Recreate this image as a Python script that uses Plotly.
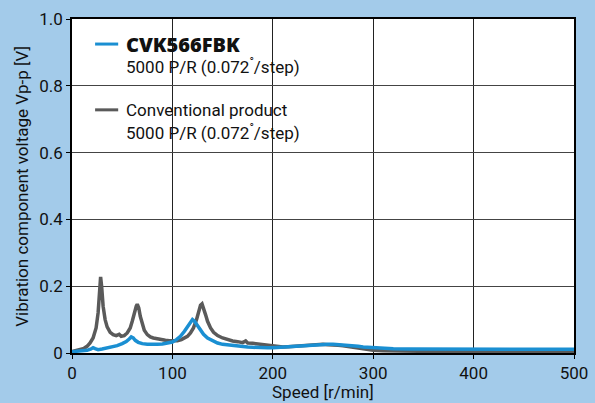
import plotly.graph_objects as go

# Conventional product (gray)
conv_speed = [0, 3, 6, 9, 12, 15, 18, 21, 24, 26, 27.5, 28.5, 29.5, 31, 33, 35, 38, 41, 44, 47, 49,
              52, 55, 58, 60, 62, 64, 65, 66.5, 68, 70, 72, 75, 78, 81, 85, 89, 93, 97, 101, 105,
              109, 112, 115, 118, 121, 124, 126, 128, 129.5, 131, 133, 135, 138, 141, 145, 150,
              155, 160, 165, 170, 173, 175, 180, 185, 190, 195, 200, 205, 210, 215, 220, 225,
              230, 235, 240, 245, 250, 255, 260, 265, 270, 275, 280, 285, 290, 295, 300, 310,
              320, 335, 350, 370, 390, 410, 430, 450, 470, 490, 500]
conv_v = [0.004, 0.006, 0.008, 0.010, 0.014, 0.020, 0.030, 0.045, 0.075, 0.120, 0.180, 0.228, 0.200,
          0.140, 0.100, 0.078, 0.062, 0.055, 0.052, 0.056, 0.050, 0.052, 0.060, 0.075, 0.095,
          0.120, 0.140, 0.146, 0.135, 0.110, 0.085, 0.068, 0.055, 0.048, 0.045, 0.042, 0.040,
          0.038, 0.037, 0.036, 0.037, 0.040, 0.045, 0.050, 0.060, 0.075, 0.100, 0.125, 0.143,
          0.147, 0.135, 0.115, 0.095, 0.075, 0.062, 0.052, 0.045, 0.040, 0.036, 0.034, 0.031,
          0.036, 0.030, 0.029, 0.027, 0.025, 0.022, 0.020, 0.019, 0.018, 0.019, 0.020, 0.021,
          0.022, 0.024, 0.024, 0.026, 0.026, 0.025, 0.025, 0.023, 0.022, 0.020, 0.018, 0.015,
          0.012, 0.010, 0.008, 0.007, 0.006, 0.005, 0.005, 0.005, 0.004, 0.004, 0.004, 0.004,
          0.004, 0.004, 0.004]

# CVK566FBK (blue)
cvk_speed = [0, 5, 10, 15, 19, 21, 23, 26, 30, 35, 40, 45, 50, 54, 57, 59, 61, 63, 66, 70, 75, 80,
             85, 90, 95, 100, 104, 108, 112, 115, 118, 120, 122, 125, 128, 131, 135, 140, 145,
             150, 155, 160, 165, 170, 175, 180, 185, 190, 195, 200, 205, 210, 215, 220, 225, 230,
             235, 240, 245, 250, 255, 260, 265, 270, 275, 280, 285, 290, 295, 300, 310, 320, 335,
             350, 365, 380, 395, 410, 425, 440, 455, 470, 485, 500]
cvk_v = [0.004, 0.005, 0.006, 0.008, 0.012, 0.016, 0.013, 0.010, 0.012, 0.015, 0.018, 0.022,
         0.028, 0.034, 0.042, 0.048, 0.045, 0.038, 0.032, 0.028, 0.026, 0.025, 0.026, 0.027,
         0.029, 0.033, 0.040, 0.050, 0.065, 0.078, 0.092, 0.100, 0.095, 0.082, 0.068, 0.056,
         0.045, 0.036, 0.030, 0.026, 0.024, 0.022, 0.020, 0.019, 0.018, 0.017, 0.016, 0.015,
         0.016, 0.016, 0.017, 0.017, 0.019, 0.020, 0.022, 0.023, 0.024, 0.025, 0.026, 0.027,
         0.026, 0.026, 0.025, 0.025, 0.024, 0.022, 0.020, 0.018, 0.017, 0.016, 0.014, 0.013,
         0.012, 0.012, 0.011, 0.011, 0.012, 0.011, 0.012, 0.011, 0.010, 0.011, 0.010, 0.011]

x_ticks = [0, 100, 200, 300, 400, 500]
y_ticks = [0, 0.2, 0.4, 0.6, 0.8, 1.0]
y_tick_text = ["0", "0.2", "0.4", "0.6", "0.8", "1.0"]

FONT = "Roboto, Liberation Sans, sans-serif"
BLUE = "#1a8fd2"
GRAY = "#5a5a5a"

fig = go.Figure()
fig.add_trace(go.Scatter(x=conv_speed, y=conv_v, mode="lines",
                         line=dict(color=GRAY, width=3.5), showlegend=False))
fig.add_trace(go.Scatter(x=cvk_speed, y=cvk_v, mode="lines",
                         line=dict(color=BLUE, width=3.5), showlegend=False))

fig.update_layout(
    width=595, height=403,
    margin=dict(l=72, r=21, t=19, b=50),
    paper_bgcolor="#a3cbea", plot_bgcolor="white",
    font=dict(family=FONT, size=17, color="#111"),
    xaxis=dict(range=[0, 500], tickvals=x_ticks, showgrid=True, gridcolor="#222", gridwidth=1,
               showline=True, linecolor="black", linewidth=1.5, mirror=True,
               ticks="outside", ticklen=4, tickcolor="black", zeroline=False, automargin=False),
    yaxis=dict(range=[0, 1.0], tickvals=y_ticks, ticktext=y_tick_text, showgrid=True,
               gridcolor="#444", gridwidth=1,
               showline=True, linecolor="black", linewidth=1.5, mirror=True,
               ticks="outside", ticklen=4, tickcolor="black", zeroline=False, automargin=False),
)

# axis titles
fig.add_annotation(text="Speed [r/min]", xref="paper", yref="paper", x=0.5, y=-0.118,
                   xanchor="center", yanchor="middle", showarrow=False, font=dict(size=17))
fig.add_annotation(text="Vibration component voltage Vp-p [V]", xref="paper", yref="paper",
                   x=-0.1, y=0.5, xanchor="center", yanchor="middle", textangle=-90,
                   showarrow=False, font=dict(size=17))

# custom legend
fig.add_shape(type="line", xref="x domain", yref="y domain", x0=0.046, x1=0.092, y0=0.925, y1=0.925,
              line=dict(color=BLUE, width=3))
fig.add_shape(type="line", xref="x domain", yref="y domain", x0=0.046, x1=0.092, y0=0.728, y1=0.728,
              line=dict(color=GRAY, width=3))
fig.add_annotation(text="CVK566FBK", xref="x domain", yref="y domain", x=0.104, y=0.925,
                   xanchor="left", yanchor="middle", showarrow=False,
                   font=dict(family="Open Sans, Roboto, sans-serif", size=20, weight=800, color="#111"))
legend_texts = [
    ("5000 P/R (0.072<sup>°</sup>/step)", 0.858),
    ("Conventional product", 0.728),
    ("5000 P/R (0.072<sup>°</sup>/step)", 0.662),
]
for txt, yy in legend_texts:
    fig.add_annotation(text=txt, xref="x domain", yref="y domain", x=0.104, y=yy,
                       xanchor="left", yanchor="middle", showarrow=False,
                       font=dict(family=FONT, size=17, color="#111"))

fig.write_html("out.html", config={"displayModeBar": False},
               post_script="document.body.style.margin='0';document.body.style.overflow='hidden';")
